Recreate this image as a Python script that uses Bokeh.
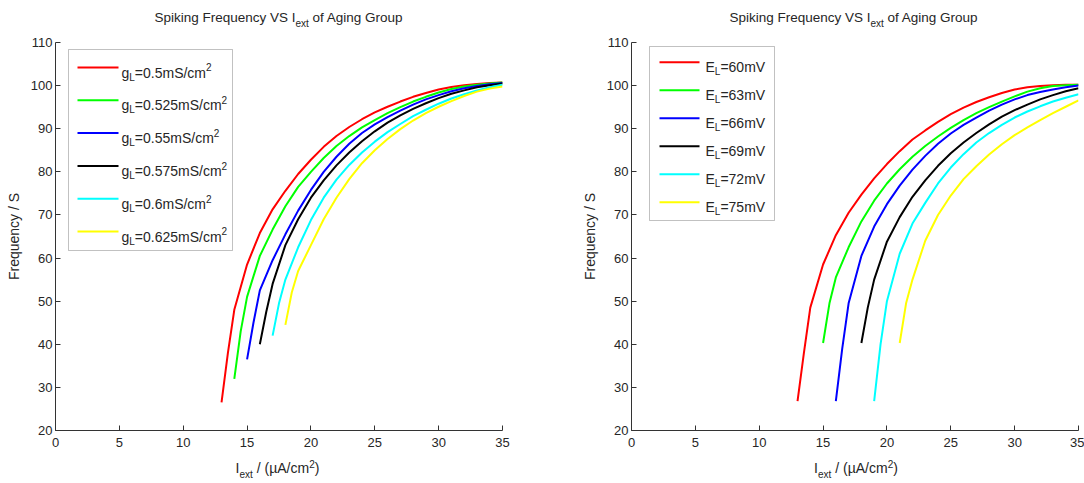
import numpy as np
from bokeh.plotting import figure
from bokeh.layouts import row, column
from bokeh.models import Range1d, Label, BoxAnnotation, Arrow, Div
from bokeh.embed import file_html
from bokeh.resources import INLINE

# ---------------- data ----------------
xticks = [0, 5, 10, 15, 20, 25, 30, 35]
yticks = [20, 30, 40, 50, 60, 70, 80, 90, 100, 110]

gl_labels = ["0.5", "0.525", "0.55", "0.575", "0.6", "0.625"]
el_labels = ["60", "63", "66", "69", "72", "75"]
colors = ["#ff0000", "#00ff00", "#0000ff", "#000000", "#00ffff", "#ffff00"]

# left panel: leakage conductance g_L
iext_gl05 = [13, 13.5, 14, 15, 16, 17, 18, 19, 20, 21, 22, 23, 24, 25, 26, 27, 28, 29, 30, 31, 32, 33, 34, 35]
freq_gl05 = [26.5, 38, 48, 58.5, 65.8, 71.3, 75.6, 79.5, 82.8, 85.8, 88.3, 90.4, 92.2, 93.8, 95.1, 96.3, 97.4, 98.3, 99.1, 99.7, 100.1, 100.4, 100.6, 100.7]
iext_gl0525 = [14, 14.5, 15, 16, 17, 18, 19, 20, 21, 22, 23, 24, 25, 26, 27, 28, 29, 30, 31, 32, 33, 34, 35]
freq_gl0525 = [32, 43, 51, 60.5, 66.6, 72, 76.5, 80, 83.2, 86, 88.3, 90.3, 92, 93.6, 95, 96.3, 97.4, 98.4, 99.2, 99.8, 100.2, 100.5, 100.7]
iext_gl055 = [15, 15.5, 16, 17, 18, 19, 20, 21, 22, 23, 24, 25, 26, 27, 28, 29, 30, 31, 32, 33, 34, 35]
freq_gl055 = [36.5, 45, 52.5, 59.5, 65.5, 71, 75.8, 80, 83.5, 86.5, 89, 91, 92.7, 94.2, 95.6, 96.8, 97.8, 98.7, 99.4, 99.9, 100.3, 100.6]
iext_gl0575 = [16, 16.5, 17, 18, 19, 20, 21, 22, 23, 24, 25, 26, 27, 28, 29, 30, 31, 32, 33, 34, 35]
freq_gl0575 = [40, 47.5, 54, 63, 69, 74, 78, 81.5, 84.5, 87.1, 89.4, 91.4, 93.1, 94.6, 95.9, 97.1, 98.1, 98.9, 99.6, 100.1, 100.5]
iext_gl06 = [17, 17.5, 18, 19, 20, 21, 22, 23, 24, 25, 26, 27, 28, 29, 30, 31, 32, 33, 34, 35]
freq_gl06 = [42, 49.5, 55, 62.5, 68.8, 74, 78.2, 81.6, 84.5, 87, 89.2, 91.1, 92.9, 94.4, 95.8, 97, 98, 98.9, 99.6, 100.2]
iext_gl0625 = [18, 18.5, 19, 20, 21, 22, 23, 24, 25, 26, 27, 28, 29, 30, 31, 32, 33, 34, 35]
freq_gl0625 = [44.5, 52, 57, 63, 69, 74, 78.3, 82, 85, 87.6, 89.9, 91.9, 93.6, 95.1, 96.4, 97.6, 98.6, 99.3, 99.8]

# right panel: leakage reversal potential E_L
iext_el60 = [13, 13.5, 14, 15, 16, 17, 18, 19, 20, 21, 22, 23, 24, 25, 26, 27, 28, 29, 30, 31, 32, 33, 34, 35]
freq_el60 = [26.8, 38, 48.5, 58.5, 65.3, 70.5, 74.7, 78.5, 81.8, 84.8, 87.5, 89.6, 91.6, 93.4, 94.9, 96.2, 97.3, 98.3, 99.1, 99.6, 99.9, 100.1, 100.2, 100.2]
iext_el63 = [15, 15.5, 16, 17, 18, 19, 20, 21, 22, 23, 24, 25, 26, 27, 28, 29, 30, 31, 32, 33, 34, 35]
freq_el63 = [40.3, 49.5, 55.5, 62.5, 68.5, 73.3, 77.3, 80.6, 83.5, 86, 88.2, 90.2, 92, 93.6, 95, 96.3, 97.5, 98.6, 99.4, 99.9, 100.1, 100.2]
iext_el66 = [16, 16.5, 17, 18, 19, 20, 21, 22, 23, 24, 25, 26, 27, 28, 29, 30, 31, 32, 33, 34, 35]
freq_el66 = [26.8, 39, 49.5, 60.5, 67.3, 72.5, 76.8, 80.5, 83.7, 86.5, 88.9, 90.9, 92.6, 94.2, 95.6, 96.8, 97.8, 98.5, 99.1, 99.6, 100]
iext_el69 = [18, 18.5, 19, 20, 21, 22, 23, 24, 25, 26, 27, 28, 29, 30, 31, 32, 33, 34, 35]
freq_el69 = [40.3, 48.5, 55, 63.8, 69.5, 74.2, 78, 81.4, 84.3, 86.8, 89, 91, 92.8, 94.3, 95.6, 96.8, 97.8, 98.7, 99.4]
iext_el72 = [19, 19.5, 20, 21, 22, 23, 24, 25, 26, 27, 28, 29, 30, 31, 32, 33, 34, 35]
freq_el72 = [26.8, 40, 50, 61, 68, 72.8, 77.3, 81, 84.1, 86.8, 89, 90.9, 92.6, 94, 95.2, 96.3, 97.2, 98]
iext_el75 = [21, 21.5, 22, 23, 24, 25, 26, 27, 28, 29, 30, 31, 32, 33, 34, 35]
freq_el75 = [40.3, 49.5, 55, 64, 70, 74.5, 78.3, 81.3, 84, 86.4, 88.5, 90.3, 92, 93.6, 95.1, 96.6]

left_series = [(iext_gl05, freq_gl05), (iext_gl0525, freq_gl0525), (iext_gl055, freq_gl055),
               (iext_gl0575, freq_gl0575), (iext_gl06, freq_gl06), (iext_gl0625, freq_gl0625)]
right_series = [(iext_el60, freq_el60), (iext_el63, freq_el63), (iext_el66, freq_el66),
                (iext_el69, freq_el69), (iext_el72, freq_el72), (iext_el75, freq_el75)]

# ---------------- styling helpers ----------------
FONT = "Liberation Sans"
TXT = "#262626"
TOP = 30          # height of the title strip above the figures
W = {' ': 278, '(': 333, ')': 333, '/': 278, '.': 278, '=': 584,
     '0': 556, '1': 556, '2': 556, '3': 556, '4': 556, '5': 556, '6': 556, '7': 556, '8': 556, '9': 556,
     'A': 667, 'E': 667, 'L': 556, 'S': 667, 'V': 667, 'c': 500, 'g': 556, 'm': 833}


def tw(s, size):
    return sum(W.get(c, 556) for c in s) * size / 1000.0


def rich(p, x, y, parts, size, small, color=TXT):
    """Text with sub/superscripts inside the plot frame; x, y in canvas pixels (y = baseline)."""
    cx = x
    for t, k in parts:
        fs = size if k == "n" else small
        dy = {"n": 0.0, "sub": 0.33 * size, "sup": -0.36 * size}[k]
        p.add_layout(Label(x=cx, y=y + dy, x_units="canvas", y_units="canvas",
                           text=t, text_font=FONT, text_font_size=f"{fs}px",
                           text_color=color, text_baseline="alphabetic", text_align="left"))
        cx += tw(t, fs)


def strip_div(width, height, html, center, top, size):
    inner = (f'<div style="position:relative;width:{width}px;height:{height}px;margin:0;padding:0;">'
             f'<div style="position:absolute;left:0;top:{top}px;width:{2 * center}px;text-align:center;'
             f'white-space:nowrap;font-family:\'{FONT}\';font-size:{size}px;line-height:{size}px;color:{TXT};">'
             f'{html}</div></div>')
    return Div(text=inner, width=width, height=height, margin=0)


TITLE_HTML = ('Spiking Frequency VS I<span style="font-size:10px;position:relative;top:4.5px;">ext</span>'
              ' of Aging Group')
XLAB_HTML = ('I<span style="font-size:10px;position:relative;top:4.6px;">ext</span> / (\u00b5A/cm'
             '<span style="font-size:10px;position:relative;top:-5px;">2</span>)')


def make_fig(width, mb_left, mb_right):
    p = figure(width=width, height=425, x_range=Range1d(0, 35), y_range=Range1d(20, 110),
               output_backend="svg", toolbar_location=None, title=None,
               min_border_left=mb_left, min_border_right=mb_right,
               min_border_top=12, min_border_bottom=25)
    p.grid.visible = False
    p.outline_line_color = None
    for ax in (p.xaxis[0], p.yaxis[0]):
        ax.axis_line_color = "#333333"
        ax.major_tick_line_color = "#333333"
        ax.minor_tick_line_color = None
        ax.major_tick_in = 5
        ax.major_tick_out = 0
        ax.major_label_text_font = FONT
        ax.major_label_text_font_size = "13px"
        ax.major_label_text_color = TXT
    p.xaxis.ticker = xticks
    p.yaxis.ticker = yticks
    p.xaxis.major_label_standoff = 7
    p.yaxis.major_label_standoff = 3
    p.yaxis.axis_label = "Frequency / S"
    p.yaxis.axis_label_text_font = FONT
    p.yaxis.axis_label_text_font_size = "14px"
    p.yaxis.axis_label_text_font_style = "normal"
    p.yaxis.axis_label_text_color = TXT
    p.yaxis.axis_label_standoff = 6
    return p


# ---------------- left figure ----------------
p1 = make_fig(575, 55, 73)
for (xs, ys), c in zip(left_series, colors):
    p1.line(xs, ys, line_color=c, line_width=2)
p1.add_layout(BoxAnnotation(left=68, right=232, top=49 - TOP, bottom=250 - TOP,
                            left_units="canvas", right_units="canvas", top_units="canvas", bottom_units="canvas",
                            fill_color="white", fill_alpha=1, line_color="#333333", line_width=1))
for i, (lab, c) in enumerate(zip(gl_labels, colors)):
    yy = 67 + i * 32.8 - TOP
    p1.add_layout(Arrow(x_start=77, y_start=yy, x_end=118, y_end=yy, start_units="canvas", end_units="canvas",
                        start=None, end=None, line_color=c, line_width=2))
    rich(p1, 121, yy + 5, [("g", "n"), ("L", "sub"), ("=" + lab + "mS/cm", "n"), ("2", "sup")], 14, 10)

# ---------------- right figure ----------------
OFF = 575
p2 = make_fig(509, 56, 6)
for (xs, ys), c in zip(right_series, colors):
    p2.line(xs, ys, line_color=c, line_width=2)
p2.add_layout(BoxAnnotation(left=649 - OFF, right=774 - OFF, top=46 - TOP, bottom=220 - TOP,
                            left_units="canvas", right_units="canvas", top_units="canvas", bottom_units="canvas",
                            fill_color="white", fill_alpha=1, line_color="#333333", line_width=1))
for i, (lab, c) in enumerate(zip(el_labels, colors)):
    yy = 61.7 + i * 28 - TOP
    p2.add_layout(Arrow(x_start=659 - OFF, y_start=yy, x_end=699 - OFF, y_end=yy, start_units="canvas",
                        end_units="canvas", start=None, end=None, line_color=c, line_width=2))
    rich(p2, 705 - OFF, yy + 4.5, [("E", "n"), ("L", "sub"), ("=" + lab + "mV", "n")], 14, 10)

# ---------------- title and x-label strips ----------------
t1 = strip_div(575, TOP, TITLE_HTML, 278.5, 11, 13.5)
t2 = strip_div(509, TOP, TITLE_HTML, 278.5, 11, 13.5)
x1 = strip_div(575, 28, XLAB_HTML, 277.5, 6, 14)
x2 = strip_div(509, 28, XLAB_HTML, 281, 6, 14)

layout = column(row(t1, t2), row(p1, p2), row(x1, x2))
open("out.html", "w").write(file_html(layout, INLINE))
